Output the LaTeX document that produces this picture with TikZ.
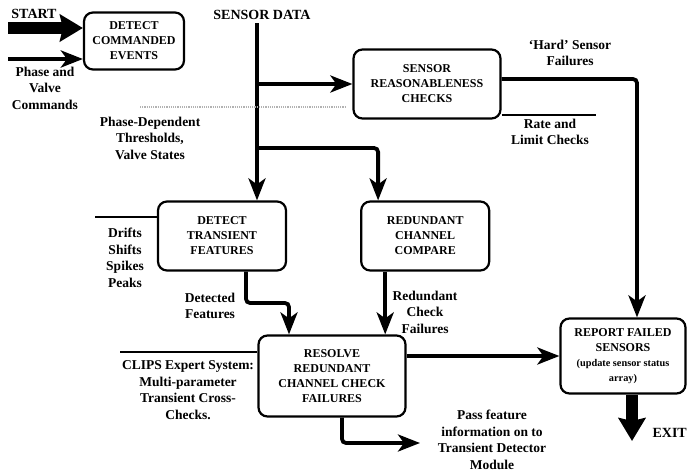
\documentclass[tikz,border=0pt]{standalone}
\usepackage{fontspec}
\setmainfont{Liberation Serif}
\usetikzlibrary{arrows.meta, positioning}
\tikzstyle{module} = [rectangle, rounded corners=9pt, line width=2.2pt, draw=black, align=center, inner sep=2pt, font=\fontsize{12}{15}\selectfont\bfseries]
\tikzstyle{note} = [align=center, inner sep=0pt, font=\fontsize{13.5}{16.5}\selectfont\bfseries]
\tikzstyle{flow} = [line width=3.8pt, rounded corners=4pt, -{Stealth[length=22pt,width=17pt,inset=6pt]}]
\tikzstyle{fat} = [line width=12pt, -{Stealth[length=23pt,width=27pt,inset=3pt]}]
\tikzstyle{rule} = [line width=1.2pt]

\begin{document}
\begin{tikzpicture}[x=1pt, y=-1pt]
    \useasboundingbox (0,0) rectangle (688,471);

    \node[module, minimum width=100pt, minimum height=57pt] (cmd) at (134,41) {DETECT\\COMMANDED\\EVENTS};
    \node[module, minimum width=147pt, minimum height=69pt] (chk) at (427,84) {SENSOR\\REASONABLENESS\\CHECKS};
    \node[module, minimum width=128pt, minimum height=69pt] (trans) at (222,236) {DETECT\\TRANSIENT\\FEATURES};
    \node[module, minimum width=128pt, minimum height=69pt, right=73pt of trans] (redund) {REDUNDANT\\CHANNEL\\COMPARE};
    \node[module, minimum width=147pt, minimum height=81pt] (res) at (332,376) {RESOLVE\\REDUNDANT\\CHANNEL CHECK\\FAILURES};
    \node[module, minimum width=125pt, minimum height=75pt] (rep) at (623,356) {REPORT FAILED\\SENSORS\\{\fontsize{10.3}{14}\selectfont (update sensor status}\\{\fontsize{10.3}{14}\selectfont array)}};

    \node[note, font=\fontsize{14}{16}\selectfont\bfseries] (start) at (34,14) {START};
    \node[note, font=\fontsize{14}{16}\selectfont\bfseries] (sdata) at (262,15) {SENSOR DATA};
    \node[note, font=\fontsize{14}{16}\selectfont\bfseries, anchor=east] (exit) at (687,433) {EXIT};
    \node[note] (phase) at (45,88) {Phase and\\Valve\\Commands};
    \node[note] (thresh) at (150,138) {Phase-Dependent\\Thresholds,\\Valve States};
    \node[note] (hard) at (570,53) {`Hard' Sensor\\Failures};
    \node[note] (rate) at (550,132) {Rate and\\Limit Checks};
    \node[note] (drifts) at (125,258) {Drifts\\Shifts\\Spikes\\Peaks};
    \node[note] (detected) at (210,306) {Detected\\Features};
    \node[note] (rcf) at (425,312) {Redundant\\Check\\Failures};
    \node[note] (clips) at (188,390) {CLIPS Expert System:\\Multi-parameter\\Transient Cross-\\Checks.};
    \node[note] (pass) at (492,440) {Pass feature\\information on to\\Transient Detector\\Module};

    \coordinate (startin) at (8,28);
    \coordinate (phasein) at (8,59);
    \coordinate (sd) at (257,23);
    \coordinate (split) at (257,148);
    \coordinate (detbend) at (289,303);
    \coordinate (passout) at (420,443);
    \coordinate (exitpt) at (632,441);
    \coordinate (threshline) at (140,107);
    \coordinate (threshend) at (346,107);
    \coordinate (rateline) at (596,115);
    \coordinate (driftline) at (95,217);
    \coordinate (clipsline) at (120,352);

    % inputs
    \draw[fat] (startin) -- (startin -| cmd.west);
    \draw[flow, line width=4pt] (phasein) -- (phasein -| cmd.west);

    % sensor data
    \draw[flow] (sd) -- (sd |- trans.north);
    \draw[flow] (sd |- chk.west) -- (chk.west);
    \draw[flow] (split) -| ([xshift=18pt]redund.north west);
    \draw[rule, draw=black!30, densely dotted] (threshline) -- (threshend);

    \draw[flow] ([yshift=5pt]chk.east) -| ([xshift=14pt]rep.north);
    \draw[rule] ([yshift=-31pt]chk.east) -- (rateline);

    \draw[rule] (driftline) -- (driftline -| trans.west);
    \draw[flow] ([xshift=24pt]trans.south) |- (detbend) -- (detbend |- res.north);
    \draw[flow] ([xshift=-40pt]redund.south) -- ([xshift=-40pt]redund.south |- res.north);

    \draw[rule] (clipsline) -- (clipsline -| res.west);
    \draw[flow] (res.east |- rep.west) -- (rep.west);
    \draw[flow] ([xshift=10pt]res.south) |- (passout);

    \draw[fat] ([xshift=9pt]rep.south) -- (exitpt);

\end{tikzpicture}
\end{document}
